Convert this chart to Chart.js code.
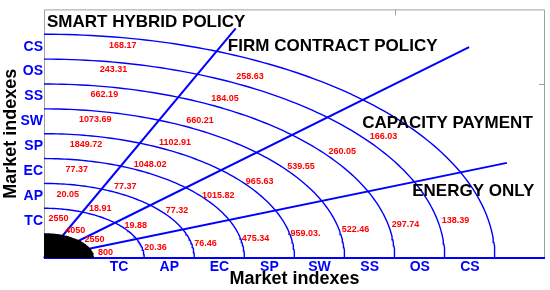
<!DOCTYPE html>
<html>
<head>
<meta charset="utf-8">
<script src="https://cdn.jsdelivr.net/npm/chart.js@4.4.0/dist/chart.umd.min.js"></script>
<style>
  html, body { margin: 0; padding: 0; background: #fff; }
</style>
</head>
<body>
<canvas id="chart" width="550" height="290"></canvas>
<script>
// axis categories (placed between the rings)
const marketIndexes = ['TC', 'AP', 'EC', 'SP', 'SW', 'SS', 'OS', 'CS'];
const indexTicks = [1.5, 2.5, 3.5, 4.5, 5.5, 6.5, 7.5, 8.5];
const ringRadii = [2, 3, 4, 5, 6, 7, 8, 9];
const coreRadius = 1;

// policy sectors, from the x axis upwards
const policies = ['ENERGY ONLY', 'CAPACITY PAYMENT', 'FIRM CONTRACT POLICY', 'SMART HYBRID POLICY'];
const policyLineAngles = [0, 22.5, 45, 67.5];
const policyLineLengths = [10, 10, 12, 10];

// values per sector, ring TC -> CS
const energyOnly = ['800', '20.36', '76.46', '475.34', '959.03.', '522.46', '297.74', '138.39'];
const capacityPayment = ['2550', '19.88', '77.32', '1015.82', '965.63', '539.55', '260.05', '166.03'];
const firmContract = ['4050', '18.91', '77.37', '1048.02', '1102.91', '660.21', '184.05', '258.63'];
const smartHybrid = ['2550', '20.05', '77.37', '1849.72', '1073.69', '662.19', '243.31', '168.17'];
const sectorValues = [energyOnly, capacityPayment, firmContract, smartHybrid];

// where the value labels and policy names sit
const labelAngles = [10.5, 35.7, 60.6, 79.6];
const labelStartRadius = [1.25, 1.24, 1.27, 1.6];
const labelStep = 1.015;
const policyTitlePos = [[7.35, 2.69], [6.35, 5.42], [3.67, 8.5], [0.06, 9.49]];

const BLUE = '#0000ff';
const FONT = "'Liberation Sans', Arial, sans-serif";
const rad = d => d * Math.PI / 180;

function arcPoints(r) {
  let pts = [];
  for (let a = 0; a <= 90; a += 1) {
    pts.push({ x: r * Math.cos(rad(a)), y: r * Math.sin(rad(a)) });
  }
  return pts;
}

let datasets = [];
// black core
let core = arcPoints(coreRadius);
datasets.push({
  data: core, showLine: true, pointRadius: 0, borderWidth: 0,
  borderColor: '#000', backgroundColor: '#000', fill: 'origin'
});
// radial policy lines
for (let i in policyLineAngles) {
  let a = rad(policyLineAngles[i]), len = policyLineLengths[i];
  datasets.push({
    data: [{ x: 0, y: 0 }, { x: len * Math.cos(a), y: len * Math.sin(a) }],
    showLine: true, pointRadius: 0, borderWidth: 2, borderColor: BLUE, fill: false, clip: 4
  });
}
// rings
for (const r of ringRadii) {
  datasets.push({
    data: arcPoints(r), showLine: true, pointRadius: 0, borderWidth: 1.4,
    borderColor: BLUE, fill: false, clip: 4
  });
}

const frame = {
  id: 'frame',
  beforeDatasetsDraw(chart) {
    const { ctx, chartArea: ca, scales } = chart;
    ctx.save();
    ctx.strokeStyle = '#a0a0a0';
    ctx.lineWidth = 1;
    ctx.beginPath();
    ctx.moveTo(ca.left + 0.5, ca.bottom);
    ctx.lineTo(ca.left + 0.5, ca.top + 0.5);
    ctx.lineTo(ca.right - 0.5, ca.top + 0.5);
    ctx.lineTo(ca.right - 0.5, ca.bottom);
    // ticks on top and right
    let tx = Math.round(scales.x.getPixelForValue(7)) + 0.5;
    ctx.moveTo(tx, ca.top);
    ctx.lineTo(tx, ca.top + 6);
    let ty = Math.round(scales.y.getPixelForValue(7)) + 0.5;
    ctx.moveTo(ca.right, ty);
    ctx.lineTo(ca.right - 6, ty);
    ctx.stroke();
    ctx.restore();
  },
  afterDatasetsDraw(chart) {
    const { ctx, scales } = chart;
    ctx.save();
    // values
    ctx.fillStyle = '#ff0000';
    ctx.font = 'bold 9px ' + FONT;
    ctx.textAlign = 'center';
    ctx.textBaseline = 'middle';
    for (let s = 0; s < sectorValues.length; s++) {
      let a = rad(labelAngles[s]);
      sectorValues[s].forEach((v, k) => {
        let r = labelStartRadius[s] + k * labelStep;
        ctx.fillText(v, scales.x.getPixelForValue(r * Math.cos(a)), scales.y.getPixelForValue(r * Math.sin(a)));
      });
    }
    // policy names
    ctx.fillStyle = '#000';
    ctx.font = 'bold 17px ' + FONT;
    ctx.textAlign = 'left';
    policies.forEach((p, i) => {
      ctx.fillText(p, scales.x.getPixelForValue(policyTitlePos[i][0]), scales.y.getPixelForValue(policyTitlePos[i][1]));
    });
    ctx.restore();
  }
};

function indexAxis(fitFn) {
  return {
    type: 'linear', min: 0, max: 10,
    afterBuildTicks: (scale) => { scale.ticks = indexTicks.map(v => ({ value: v })); },
    afterFit: fitFn,
    grid: { display: false, drawTicks: false },
    border: { display: false },
    ticks: {
      autoSkip: false, maxRotation: 0, padding: 1,
      color: BLUE, font: { family: FONT, size: 14, weight: 'bold' },
      callback: (v, i) => marketIndexes[i]
    },
    title: {
      display: true, text: 'Market indexes', color: '#000',
      font: { family: FONT, size: 18, weight: 'bold' }, padding: { top: 0, bottom: 0 }
    }
  };
}

new Chart(document.getElementById('chart'), {
  type: 'scatter',
  data: { datasets: datasets },
  options: {
    responsive: false,
    animation: false,
    devicePixelRatio: 1,
    layout: { padding: { top: 5, right: 5, left: 0, bottom: 0 } },
    plugins: { legend: { display: false }, tooltip: { enabled: false } },
    scales: {
      x: indexAxis((scale) => { scale.height = 32; }),
      y: indexAxis((scale) => { scale.width = 44; })
    }
  },
  plugins: [frame]
});
</script>
</body>
</html>
